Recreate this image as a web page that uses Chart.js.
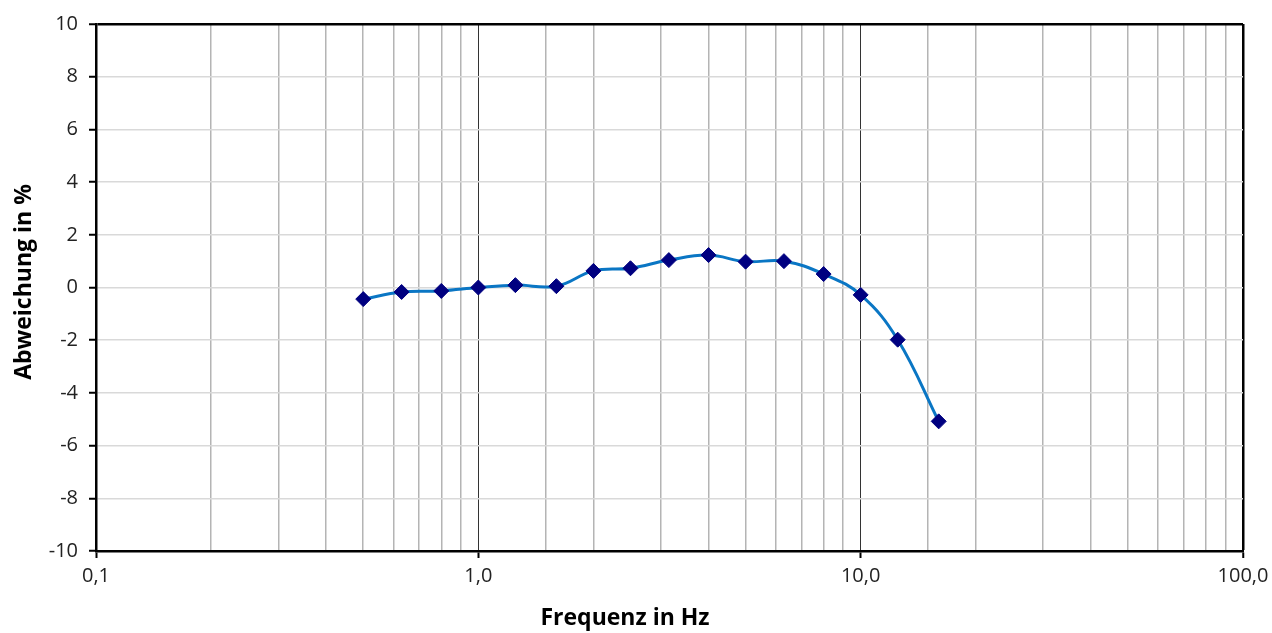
<!DOCTYPE html>
<html>
<head>
<meta charset="utf-8">
<script src="https://cdn.jsdelivr.net/npm/chart.js@4/dist/chart.umd.min.js"></script>
<style>
    html, body { margin: 0; padding: 0; background: #fff; }
    #wrap { width: 1272px; height: 633px; }
</style>
</head>
<body>
<div id="wrap"><canvas id="ChartDeviation"></canvas></div>
<script>
// Terzband-Frequenzen (Hz) und Abweichung (%)
const frequencies = [0.5, 0.63, 0.8, 1.0, 1.25, 1.6, 2.0, 2.5, 3.15, 4.0, 5.0, 6.3, 8.0, 10.0, 12.5, 16.0];
const deviations = [-0.44, -0.17, -0.13, 0.0, 0.09, 0.05, 0.63, 0.73, 1.04, 1.23, 0.98, 1.0, 0.51, -0.28, -1.98, -5.08];

// Achsen
const xRange = [0.1, 100];
const yRange = [-10, 10];
const yStep = 2;
const xTitle = 'Frequenz in Hz';
const yTitle = 'Abweichung in %';

const isDecade = (v) => Math.abs(Math.log10(v) - Math.round(Math.log10(v))) < 1e-6;
const fontFamily = '"Open Sans", "Noto Sans", sans-serif';

const points = frequencies.map((f, i) => ({ x: f, y: deviations[i] }));

// Achsentitel wie im Original (nicht auf die Plotfläche zentriert)
const axisTitles = {
    id: 'axisTitles',
    afterDraw(chart) {
        const ctx = chart.ctx;
        ctx.save();
        ctx.fillStyle = '#000';
        ctx.font = 'bold 23px ' + fontFamily;
        ctx.textAlign = 'center';
        ctx.textBaseline = 'middle';
        ctx.fillText(xTitle, 625, 618);
        ctx.translate(24, 282);
        ctx.rotate(-Math.PI / 2);
        ctx.fillText(yTitle, 0, 0);
        ctx.restore();
    }
};

new Chart(document.getElementById('ChartDeviation'), {
    type: 'scatter',
    data: {
        datasets: [
            {
                data: points,
                showLine: true,
                tension: 0.4,
                borderColor: '#0a76c4',
                borderWidth: 3,
                pointStyle: 'rectRot',
                pointRadius: 7.5,
                pointBackgroundColor: '#000080',
                pointBorderColor: '#000080',
                pointBorderWidth: 1
            }
        ]
    },
    options: {
        responsive: true,
        maintainAspectRatio: false,
        animation: false,
        layout: {
            padding: { top: 24, right: 29, bottom: 0, left: 0 }
        },
        plugins: {
            legend: { display: false },
            tooltip: { enabled: false }
        },
        scales: {
            x: {
                type: 'logarithmic',
                min: xRange[0],
                max: xRange[1],
                afterFit: (scale) => {
                    scale.height = 82;
                    // Beschriftung darf über den Rand hinausragen
                    scale.paddingLeft = 0;
                    scale.paddingRight = 0;
                },
                border: { display: true, color: '#000', width: 2.5 },
                grid: {
                    color: (ctx) => {
                        const v = ctx.tick && ctx.tick.value;
                        if (v === xRange[1]) return '#000';
                        return isDecade(v) ? '#333' : '#b4b4b4';
                    },
                    lineWidth: (ctx) => {
                        const v = ctx.tick && ctx.tick.value;
                        if (v === xRange[1]) return 2.5;
                        return isDecade(v) ? 1 : 1.5;
                    },
                    tickColor: (ctx) => {
                        const v = ctx.tick && ctx.tick.value;
                        return isDecade(v) ? '#000' : 'rgba(0,0,0,0)';
                    },
                    tickWidth: 2,
                    tickLength: 7
                },
                ticks: {
                    autoSkip: false,
                    maxRotation: 0,
                    padding: 6,
                    color: '#222',
                    font: { family: fontFamily, size: 20 },
                    callback: (v) => isDecade(v) ? Number(v).toFixed(1).replace('.', ',') : ''
                }
            },
            y: {
                min: yRange[0],
                max: yRange[1],
                afterFit: (scale) => { scale.width = 96; },
                border: { display: true, color: '#000', width: 2.5 },
                grid: {
                    color: (ctx) => ctx.tick && ctx.tick.value === yRange[1] ? '#000' : '#d9d9d9',
                    lineWidth: (ctx) => ctx.tick && ctx.tick.value === yRange[1] ? 2.5 : 1.5,
                    tickColor: '#000',
                    tickWidth: 2,
                    tickLength: 7
                },
                ticks: {
                    stepSize: yStep,
                    padding: 11,
                    color: '#222',
                    font: { family: fontFamily, size: 20 }
                }
            }
        }
    },
    plugins: [axisTitles]
});
</script>
</body>
</html>
